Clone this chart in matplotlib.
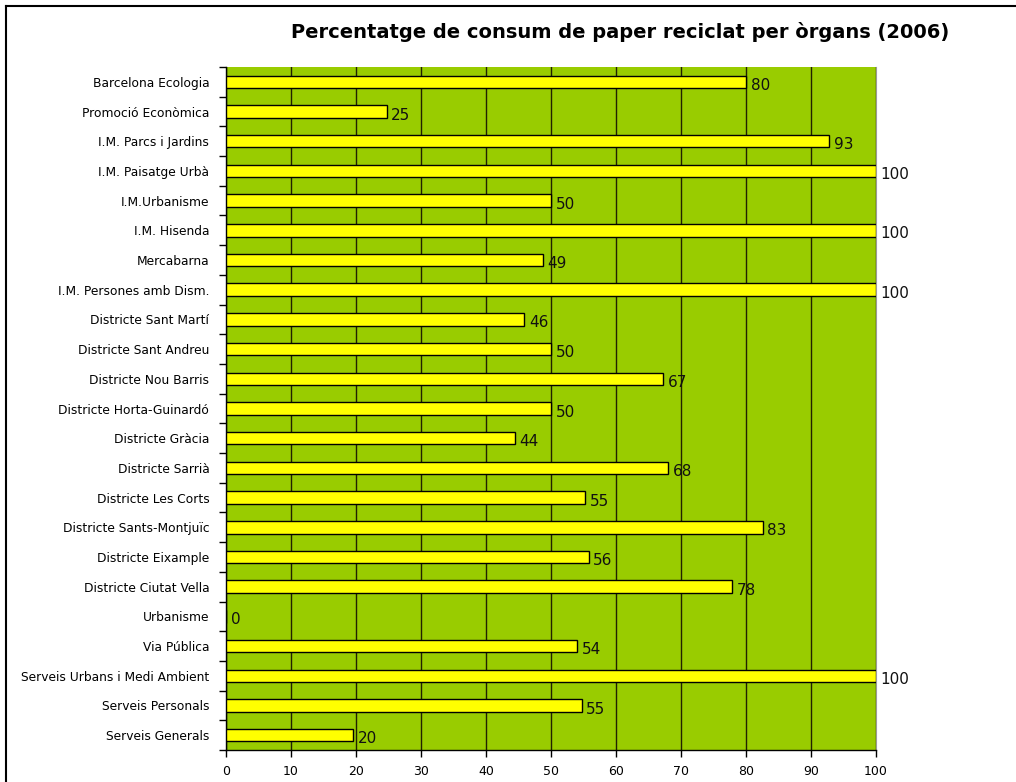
import matplotlib.pyplot as plt
import numpy as np
from matplotlib.lines import Line2D

# categories listed top to bottom as in the chart
organs = [
    "Barcelona Ecologia",
    "Promoció Econòmica",
    "I.M. Parcs i Jardins",
    "I.M. Paisatge Urbà",
    "I.M.Urbanisme",
    "I.M. Hisenda",
    "Mercabarna",
    "I.M. Persones amb Dism.",
    "Districte Sant Martí",
    "Districte Sant Andreu",
    "Districte Nou Barris",
    "Districte Horta-Guinardó",
    "Districte Gràcia",
    "Districte Sarrià",
    "Districte Les Corts",
    "Districte Sants-Montjuïc",
    "Districte Eixample",
    "Districte Ciutat Vella",
    "Urbanisme",
    "Via Pública",
    "Serveis Urbans i Medi Ambient",
    "Serveis Personals",
    "Serveis Generals",
]
percent = [80, 24.7, 92.8, 100, 50, 100, 48.8, 100, 45.9, 50, 67.3, 50, 44.4,
           68.0, 55.3, 82.6, 55.8, 77.8, 0, 54.0, 100, 54.7, 19.6]
x_ticks = list(range(0, 101, 10))

GREEN = "#99CC00"
YELLOW = "#FFFF00"

fig = plt.figure(figsize=(10.16, 7.82), dpi=100)
ax = fig.add_axes([226 / 1016, 32 / 782, 650 / 1016, 683 / 782])
ax.set_facecolor(GREEN)

n = len(organs)
ypos = np.arange(n)
ax.barh(ypos, percent, height=0.42, color=YELLOW, edgecolor="black",
        linewidth=1, zorder=3)

for y, v in zip(ypos, percent):
    ax.text(v + 0.7, y + 0.12, f"{round(v)}", va="center", ha="left",
            fontsize=11, color="#111111", clip_on=False)

ax.set_xlim(0, 100)
ax.set_ylim(n - 0.5, -0.5)
ax.set_xticks(x_ticks)
ax.tick_params(axis="x", labelsize=9, length=5, width=1, pad=6)
ax.set_yticks(ypos)
ax.set_yticklabels(organs, fontsize=8.8)
ax.tick_params(axis="y", which="major", length=0, pad=12)
ax.set_yticks(np.arange(n + 1) - 0.5, minor=True)
ax.tick_params(axis="y", which="minor", length=5, width=1)

ax.xaxis.grid(True, color="#222200", linewidth=1, zorder=1)
ax.set_axisbelow(True)

ax.spines["top"].set_visible(False)
ax.spines["right"].set_color("#999999")
ax.spines["left"].set_linewidth(1)
ax.spines["bottom"].set_linewidth(1)

fig.text(620 / 1016, 1 - 32 / 782, "Percentatge de consum de paper reciclat per òrgans (2006)",
         ha="center", va="center", fontsize=14, fontweight="bold")

# outer frame (only left and top edges visible)
fig.add_artist(Line2D([6 / 1016, 6 / 1016], [0, 1 - 6 / 782], color="black", linewidth=1.5))
fig.add_artist(Line2D([6 / 1016, 1], [1 - 6 / 782, 1 - 6 / 782], color="black", linewidth=1.5))

fig.savefig("out.png", dpi=100)
